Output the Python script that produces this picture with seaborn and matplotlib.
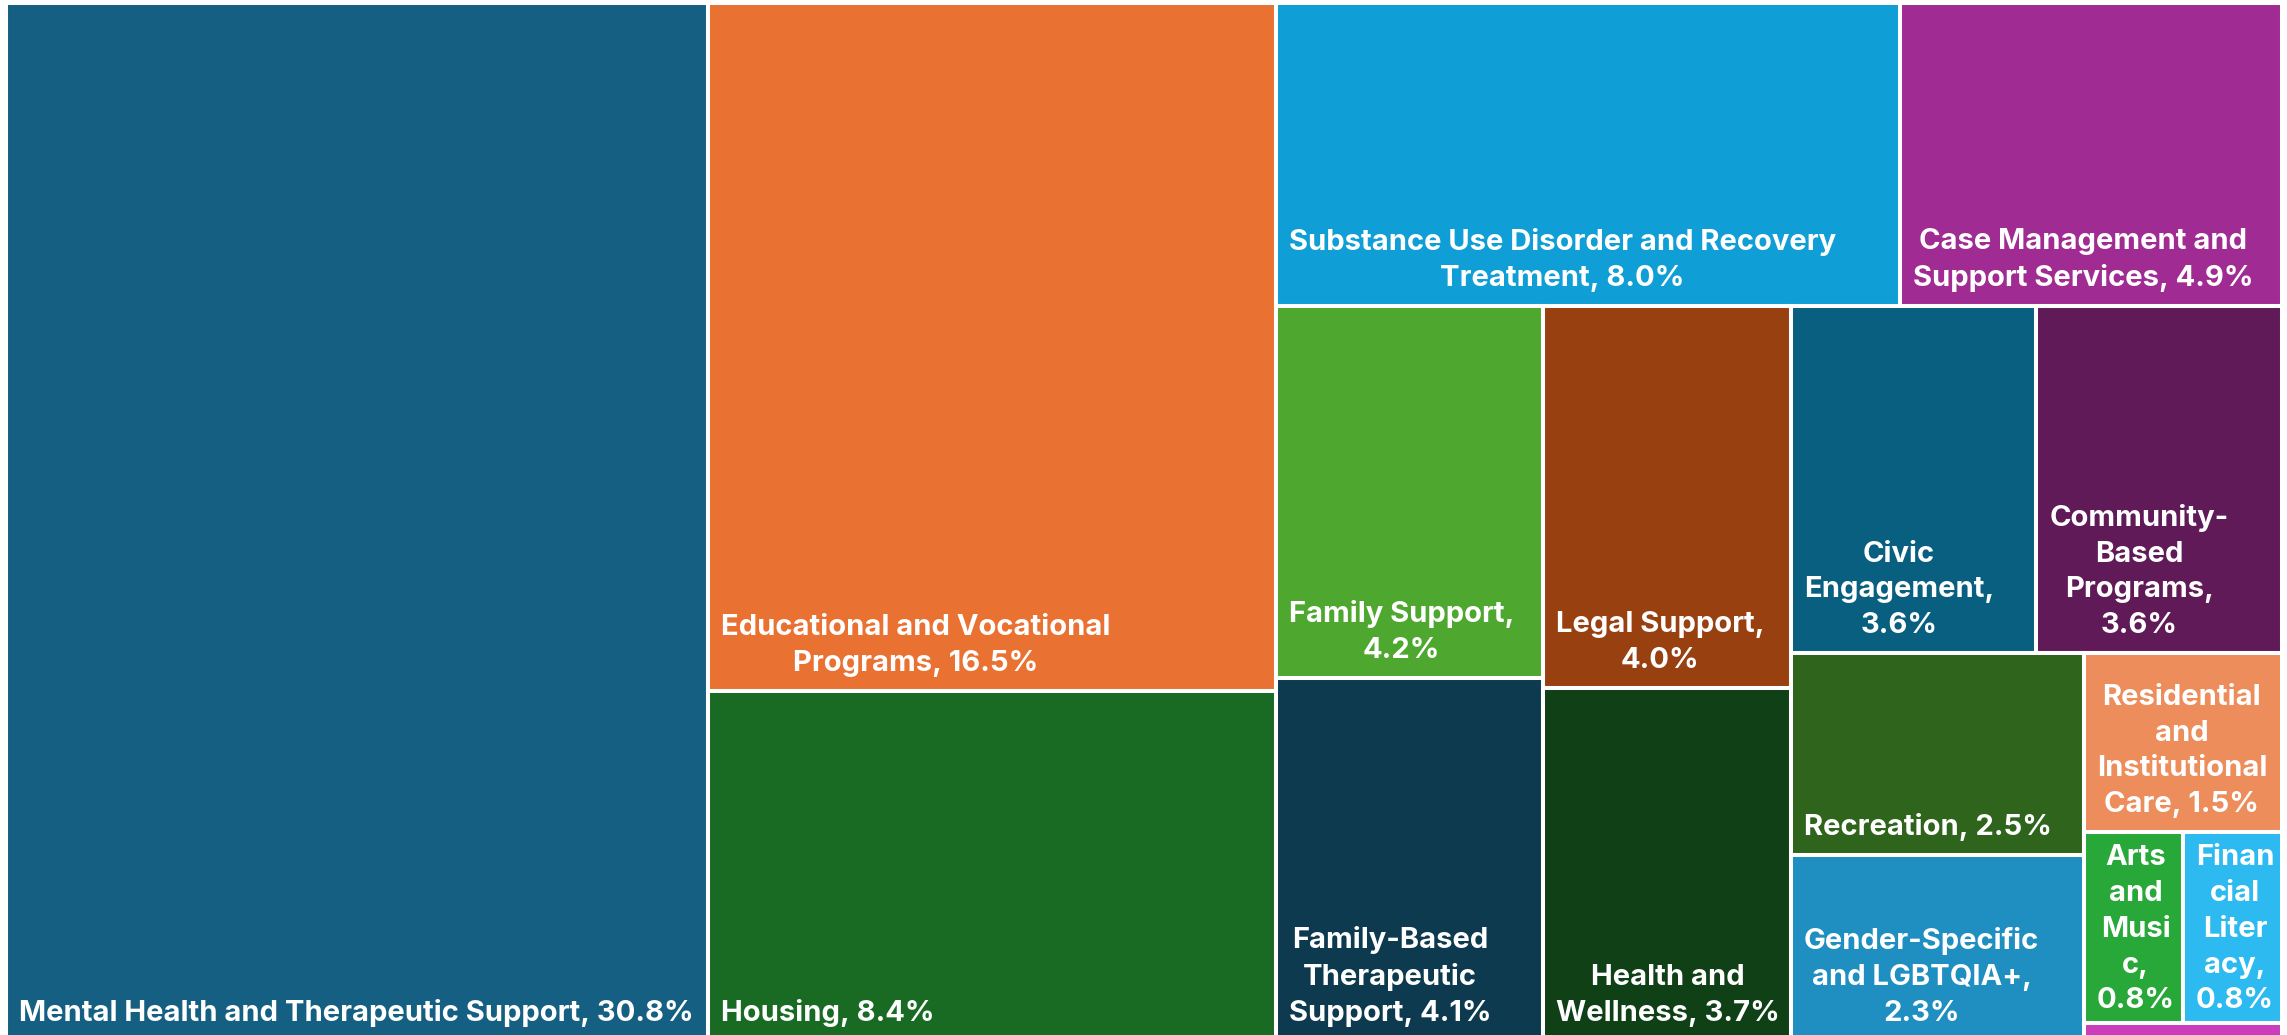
import matplotlib
matplotlib.use("Agg")
import matplotlib.pyplot as plt
from matplotlib.patches import Rectangle
import seaborn as sns

# ---------------- data ----------------
categories = [
    "Mental Health and Therapeutic Support",
    "Educational and Vocational Programs",
    "Housing",
    "Substance Use Disorder and Recovery Treatment",
    "Case Management and Support Services",
    "Family Support",
    "Family-Based Therapeutic Support",
    "Legal Support",
    "Health and Wellness",
    "Civic Engagement",
    "Community-Based Programs",
    "Recreation",
    "Gender-Specific and LGBTQIA+",
    "Residential and Institutional Care",
    "Arts and Music",
    "Financial Literacy",
    "Other",
]
values = [30.8, 16.5, 8.4, 8.0, 4.9, 4.2, 4.1, 4.0, 3.7, 3.6, 3.6, 2.5, 2.3, 1.5, 0.8, 0.8, 0.15]
label_texts = [
    "Mental Health and Therapeutic Support, 30.8%",
    "Educational and Vocational\nPrograms, 16.5%",
    "Housing, 8.4%",
    "Substance Use Disorder and Recovery\nTreatment, 8.0%",
    "Case Management and\nSupport Services, 4.9%",
    "Family Support,\n4.2%",
    "Family-Based\nTherapeutic\nSupport, 4.1%",
    "Legal Support,\n4.0%",
    "Health and\nWellness, 3.7%",
    "Civic\nEngagement,\n3.6%",
    "Community-\nBased\nPrograms,\n3.6%",
    "Recreation, 2.5%",
    "Gender-Specific\nand LGBTQIA+,\n2.3%",
    "Residential\nand\nInstitutional\nCare, 1.5%",
    "Arts\nand\nMusi\nc,\n0.8%",
    "Finan\ncial\nLiter\nacy,\n0.8%",
    "",
]
colors = [
    "#156082", "#E97132", "#196B24", "#0F9ED5", "#A02B93", "#4EA72E",
    "#0D3A4E", "#994011", "#0F4016", "#095F80", "#601A58", "#2F641C",
    "#1F8EC0", "#ED8D5B", "#27A839", "#2CBAF0", "#CB3DBB",
]

# ---------------- style ----------------
sns.set_theme(style="white")
plt.rcParams["font.family"] = ["Inter", "DejaVu Sans"]
palette = sns.color_palette(colors)
FONT_SIZE = 21
LINE_SP = 1.42


def treemap_layout(vals, x, y, w, h):
    """Squarified-style strip layout (rows along the shorter side)."""
    rects = []
    i = 0
    n = len(vals)
    while i < n:
        rem = sum(vals[i:])
        scale = w * h / rem
        vertical = w > h
        side = h if vertical else w

        def aspects(row):
            thick = sum(row) * scale / side
            out = []
            for v in row:
                ln = v * scale / thick
                out.append(max(thick / ln, ln / thick))
            return out

        row = [vals[i]]
        j = i + 1
        while j < n:
            cur = aspects(row)[-1]
            new = aspects(row + [vals[j]])[-1]
            if new <= cur:
                row.append(vals[j])
                j += 1
            else:
                break
        thick = sum(row) * scale / side
        off = 0.0
        for v in row:
            ln = v * scale / thick
            if vertical:
                rects.append((x, y + off, thick, ln))
            else:
                rects.append((x + off, y, ln, thick))
            off += ln
        if vertical:
            x += thick
            w -= thick
        else:
            y += thick
            h -= thick
        i = j
    return rects


FW, FH = 2287, 1035
fig = plt.figure(figsize=(FW / 100, FH / 100), dpi=100)
ax = fig.add_axes([6 / FW, (FH - 1041) / FH, 2276 / FW, 1038 / FH])
ax.set_axis_off()
fig.canvas.draw()
bb = ax.get_window_extent()
W, H = bb.width, bb.height
ax.set_xlim(0, W)
ax.set_ylim(H, 0)

rects = treemap_layout(values, 0, 0, W, H)
renderer = fig.canvas.get_renderer()

for (rx, ry, rw, rh), col, lab in zip(rects, palette, label_texts):
    patch = Rectangle((rx, ry), rw, rh, facecolor=col, edgecolor="white", linewidth=2.9)
    ax.add_patch(patch)
    if not lab:
        continue
    kw = dict(textcoords="offset pixels", ha="left", multialignment="center",
              color="white", fontsize=FONT_SIZE, fontweight="bold", linespacing=LINE_SP)
    t = ax.annotate(lab, xy=(rx, ry + rh), xytext=(13, 14), va="bottom", **kw)
    ext = t.get_window_extent(renderer)
    if ext.height + 24 > rh:
        t.remove()
        t = ax.annotate(lab, xy=(rx, ry), xytext=(13, -12), va="top", **kw)
    ext = t.get_window_extent(renderer)
    if ext.width + 22 > rw and "\n" not in lab:
        t.set_fontsize(FONT_SIZE * (rw - 26) / ext.width)
    t.set_clip_path(patch)

fig.savefig("out.png", dpi=100)
